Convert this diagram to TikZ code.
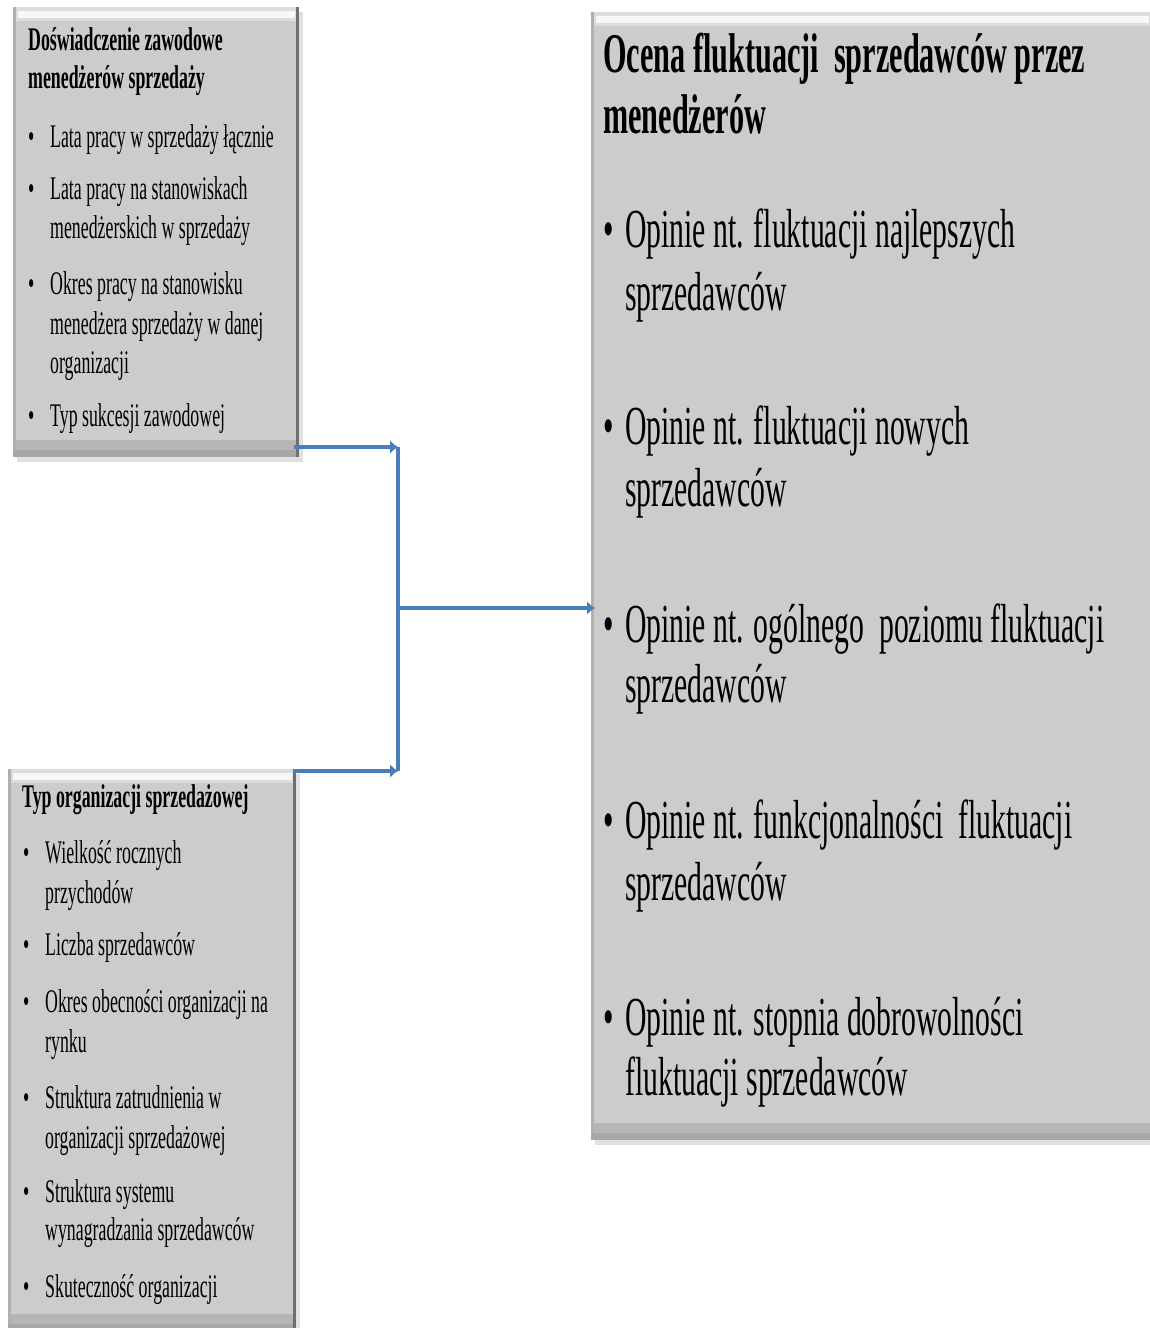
\documentclass[tikz,border=0pt]{standalone}
\usepackage{fontspec}
\setmainfont[FakeStretch=0.54]{Liberation Serif}
\usepackage{tikz}
\usetikzlibrary{arrows.meta}
\usetikzlibrary{shadows}

\definecolor{panelgray}{HTML}{CCCCCC}
\definecolor{panelside}{HTML}{B0B0B0}
\definecolor{panelband}{HTML}{B6B6B6}
\definecolor{paneldark}{HTML}{A8A8A8}
\definecolor{paneltop}{HTML}{DCDCDC}
\definecolor{panelrim}{HTML}{707070}
\definecolor{linkblue}{HTML}{4A7EBB}

\tikzset{
	panel/.style={fill=panelgray, inner sep=0pt, anchor=north west,
		drop shadow={shadow xshift=4pt, shadow yshift=-5pt, fill=black!12, opacity=1}},
	lefttext/.style={anchor=base west, inner sep=0pt, font=\fontsize{33}{39}\selectfont},
	lefthead/.style={lefttext, font=\fontsize{33}{39}\selectfont\bfseries},
	righttext/.style={anchor=base west, inner sep=0pt, font=\fontsize{55}{62}\selectfont},
	righthead/.style={righttext, font=\fontsize{56}{62}\selectfont\bfseries},
	link/.style={draw=linkblue, line width=3.5pt},
	tip/.style={-{Latex[length=8pt,width=14pt]}}
}

% bevelled edges of a panel node
\newcommand{\panelframe}[1]{%
	\fill[panelside] (#1.north west) rectangle ([xshift=3pt]#1.south west);
	\fill[panelband] ([xshift=3pt,yshift=17pt]#1.south west) rectangle (#1.south east);
	\fill[paneldark] ([yshift=7pt]#1.south west) rectangle (#1.south east);
	\fill[paneltop] ([xshift=3pt]#1.north west) rectangle ([yshift=-14pt]#1.north east);
	\fill[white!97!black] ([xshift=5pt,yshift=-4pt]#1.north west) rectangle ([xshift=-4pt,yshift=-11pt]#1.north east);
	\fill[panelrim] ([xshift=-3pt]#1.north east) rectangle (#1.south east);
}

\begin{document}
\begin{tikzpicture}[x=1pt, y=-1pt]
	\useasboundingbox (0,0) rectangle (1149,1328);

	% panels
	\node[panel, minimum width=286pt, minimum height=450pt] (exp) at (13,7) {};
	\node[panel, minimum width=288pt, minimum height=562pt] (org) at (8,769) {};
	\node[panel, minimum width=562pt, minimum height=1128pt] (ocena) at (591,12) {};
	\panelframe{exp}
	\panelframe{org}
	\panelframe{ocena}

	% top left panel
	\node[lefthead] (exph1) at (28,50) {Doświadczenie zawodowe};
	\node[lefthead] (exph2) at (28,88) {menedżerów sprzedaży};
	\node[lefttext] (exp1) at (28,147) {\makebox[22pt][l]{•}Lata pracy w sprzedaży łącznie};
	\node[lefttext] (exp2) at (28,199) {\makebox[22pt][l]{•}Lata pracy na stanowiskach};
	\node[lefttext] (exp2b) at (50,238) {menedżerskich w sprzedaży};
	\node[lefttext] (exp3) at (28,294) {\makebox[22pt][l]{•}Okres pracy na stanowisku};
	\node[lefttext] (exp3b) at (50,334) {menedżera sprzedaży w danej};
	\node[lefttext] (exp3c) at (50,373) {organizacji};
	\node[lefttext] (exp4) at (28,426) {\makebox[22pt][l]{•}Typ sukcesji zawodowej};

	% bottom left panel
	\node[lefthead] (orgh) at (22,807) {Typ organizacji sprzedażowej};
	\node[lefttext] (org1) at (23,863) {\makebox[22pt][l]{•}Wielkość rocznych};
	\node[lefttext] (org1b) at (45,903) {przychodów};
	\node[lefttext] (org2) at (23,955) {\makebox[22pt][l]{•}Liczba sprzedawców};
	\node[lefttext] (org3) at (23,1012) {\makebox[22pt][l]{•}Okres obecności organizacji na};
	\node[lefttext] (org3b) at (45,1052) {rynku};
	\node[lefttext] (org4) at (23,1108) {\makebox[22pt][l]{•}Struktura zatrudnienia w};
	\node[lefttext] (org4b) at (45,1148) {organizacji sprzedażowej};
	\node[lefttext] (org5) at (23,1202) {\makebox[22pt][l]{•}Struktura systemu};
	\node[lefttext] (org5b) at (45,1240) {wynagradzania sprzedawców};
	\node[lefttext] (org6) at (23,1297) {\makebox[22pt][l]{•}Skuteczność organizacji};

	% right panel
	\node[righthead] (ocenah1) at (603,72) {Ocena fluktuacji~ sprzedawców przez};
	\node[righthead] (ocenah2) at (603,133) {menedżerów};
	\node[righttext] (op1) at (603,247) {\makebox[22pt][l]{•}Opinie nt. fluktuacji najlepszych};
	\node[righttext] (op1b) at (625,310) {sprzedawców};
	\node[righttext] (op2) at (603,444) {\makebox[22pt][l]{•}Opinie nt. fluktuacji nowych};
	\node[righttext] (op2b) at (625,506) {sprzedawców};
	\node[righttext] (op3) at (603,642) {\makebox[22pt][l]{•}Opinie nt. ogólnego~ poziomu fluktuacji};
	\node[righttext] (op3b) at (625,702) {sprzedawców};
	\node[righttext] (op4) at (603,838) {\makebox[22pt][l]{•}Opinie nt. funkcjonalności~ fluktuacji};
	\node[righttext] (op4b) at (625,900) {sprzedawców};
	\node[righttext] (op5) at (603,1035) {\makebox[22pt][l]{•}Opinie nt. stopnia dobrowolności};
	\node[righttext] (op5b) at (625,1095) {fluktuacji sprzedawców};

	% connectors
	\coordinate (jtop) at (398,447);
	\coordinate (jmid) at (398,608);
	\coordinate (jbot) at (398,771);
	\draw[link, tip] ([xshift=-5pt]exp.east |- jtop) -- (jtop);
	\draw[link, tip] ([xshift=-2pt]org.east |- jbot) -- (jbot);
	\draw[link] (jtop) -- (jbot);
	\draw[link, tip] (jmid) -- ([xshift=4pt]ocena.west |- jmid);
\end{tikzpicture}
\end{document}
